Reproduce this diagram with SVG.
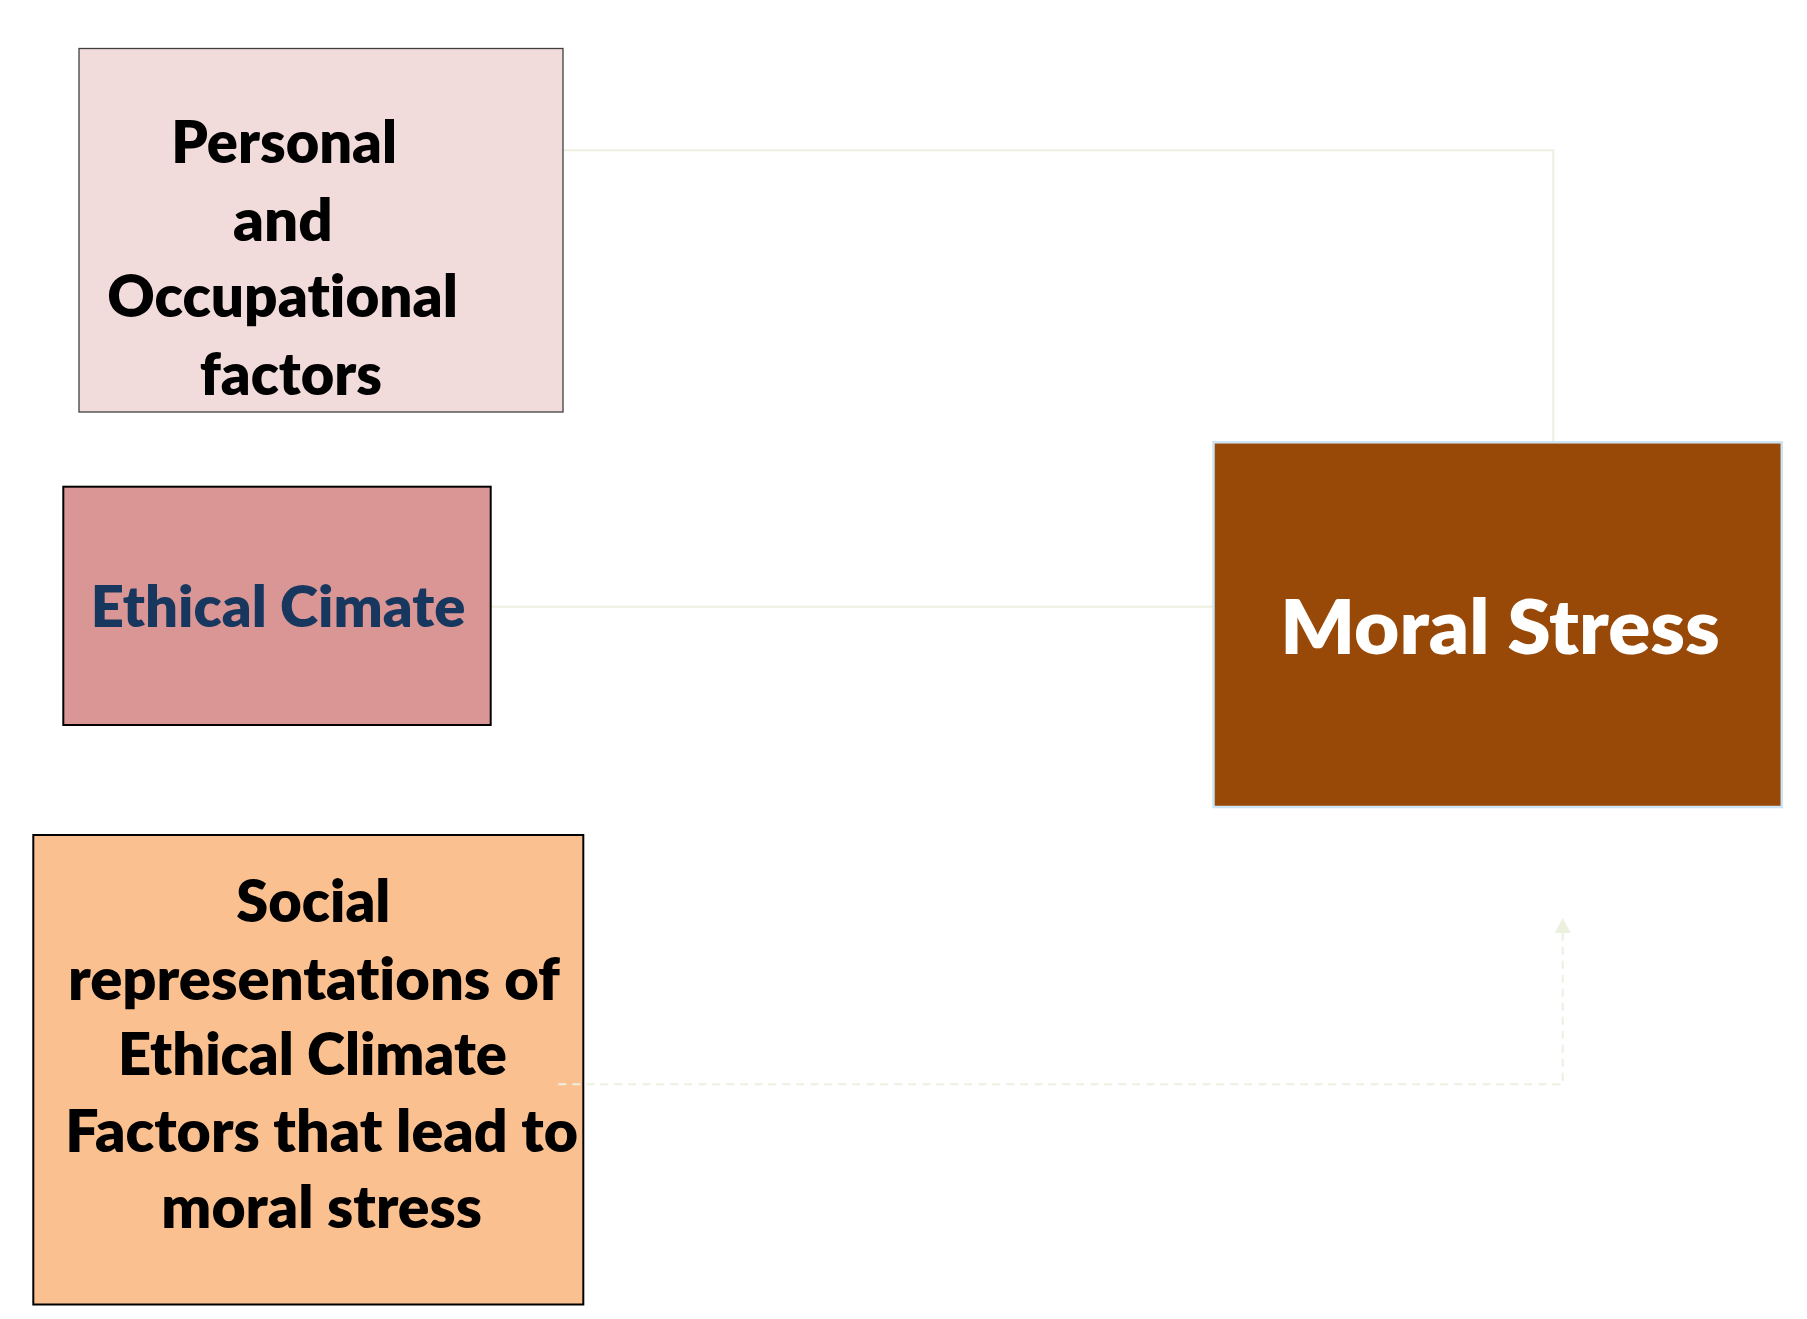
<svg xmlns="http://www.w3.org/2000/svg" width="1807" height="1319" viewBox="0 0 1807 1319">
  <style>
    .lbl { font-family: Lato, "Open Sans", "Liberation Sans", sans-serif; font-weight: 800; font-variant-ligatures: none; font-feature-settings: "liga" 0, "clig" 0; }
    .dark { fill: #000000; font-size: 59px; }
    .navy { fill: #17375E; font-size: 57px; }
    .white { fill: #FFFFFF; font-size: 76px; }
    .link { fill: none; stroke: #ECF0DF; stroke-width: 2; }
    .dashed { stroke-dasharray: 8 6; }
  </style>
  <defs>
    <marker id="arrowUp" viewBox="0 0 16 16" refX="1" refY="8" markerWidth="16" markerHeight="16" markerUnits="userSpaceOnUse" orient="auto">
      <path d="M0,0 L15,8 L0,16 z" fill="#ECF0DF"/>
    </marker>
  </defs>

  <rect width="1807" height="1319" fill="#FFFFFF"/>

  <!-- connectors -->
  <g id="connectors">
    <path class="link" d="M563 150.3 H1553.3 V441"/>
    <path class="link" d="M490.7 606.7 H1213"/>
  </g>

  <!-- nodes -->
  <g id="personal-occupational">
    <rect x="79" y="48.5" width="484" height="363.5" fill="#F2DCDB" stroke="#404040" stroke-width="1.3"/>
    <text class="lbl dark" x="171.3" y="163.3" textLength="225.7" lengthAdjust="spacingAndGlyphs">Personal</text>
    <text class="lbl dark" x="233" y="240.7" textLength="99.7" lengthAdjust="spacingAndGlyphs">and</text>
    <text class="lbl dark" x="107.3" y="317.3" textLength="350.7" lengthAdjust="spacingAndGlyphs">Occupational</text>
    <text class="lbl dark" x="199.7" y="395" textLength="182.3" lengthAdjust="spacingAndGlyphs">factors</text>
  </g>

  <g id="ethical-climate">
    <rect x="63.3" y="486.7" width="427.4" height="238.3" fill="#D99694" stroke="#000000" stroke-width="2"/>
    <text class="lbl navy" x="90.7" y="626.7" textLength="374.7" lengthAdjust="spacingAndGlyphs">Ethical Cimate</text>
  </g>

  <g id="social-representations">
    <rect x="33.3" y="835" width="550" height="469.5" fill="#FAC090" stroke="#000000" stroke-width="2"/>
    <text class="lbl dark" x="236.3" y="921.7" textLength="154" lengthAdjust="spacingAndGlyphs">Social</text>
    <text class="lbl dark" x="68" y="1000" textLength="491.8" lengthAdjust="spacingAndGlyphs">representations of</text>
    <text class="lbl dark" x="118" y="1075" textLength="389" lengthAdjust="spacingAndGlyphs">Ethical Climate</text>
    <text class="lbl dark" x="65.3" y="1151.7" textLength="512.7" lengthAdjust="spacingAndGlyphs">Factors that lead to</text>
    <text class="lbl dark" x="161.3" y="1228.3" textLength="320.7" lengthAdjust="spacingAndGlyphs">moral stress</text>
  </g>

  <g id="moral-stress">
    <rect x="1213.5" y="442.3" width="568.3" height="364.7" fill="#984807" stroke="#CCE4F5" stroke-width="2.5"/>
    <text class="lbl white" x="1280.3" y="654" textLength="439.5" lengthAdjust="spacingAndGlyphs">Moral Stress</text>
  </g>

  <!-- dashed connector drawn over the lower box -->
  <g id="connector-dashed">
    <path class="link dashed" d="M558.3 1084.3 H1562.7 V932" marker-end="url(#arrowUp)"/>
  </g>
</svg>
